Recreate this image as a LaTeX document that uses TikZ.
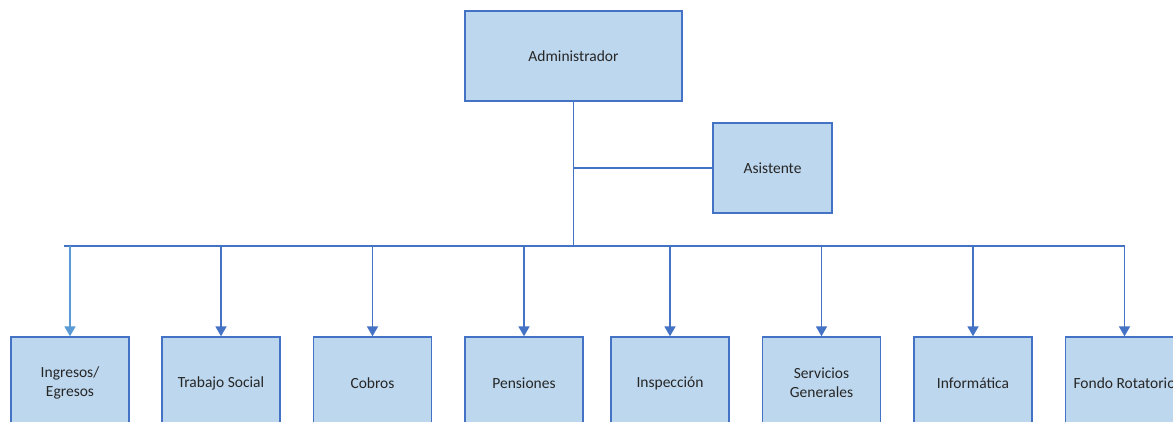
\documentclass[tikz,border=0pt]{standalone}
\usepackage{fontspec}
\setmainfont{Carlito}
\usetikzlibrary{arrows.meta}
\definecolor{boxfill}{HTML}{BDD7EE}
\definecolor{boxline}{HTML}{4472C4}
\definecolor{lightline}{HTML}{5B9BD5}
\definecolor{textgray}{HTML}{262626}
\tikzstyle{unit}=[draw=boxline, fill=boxfill, line width=1.4pt, align=center,
  text=textgray, font=\fontsize{15.5}{19}\selectfont, inner sep=0pt]
\tikzstyle{link}=[draw=boxline, line width=1.8pt]
\tikzstyle{down}=[link, -{Triangle[width=11pt,length=10pt]}]

\begin{document}
\begin{tikzpicture}[x=1pt, y=-1pt]
\useasboundingbox (0,0) rectangle (1173,422);
% Top
    \node[unit, minimum width=217pt, minimum height=90pt] (admin) at (573.5,56) {Administrador};
    \node[unit, minimum width=119pt, minimum height=90pt] (asist) at (772.5,168) {Asistente};
% Units
    \node[unit, minimum width=118pt, minimum height=92pt] (ingresos) at (70,383) {Ingresos/\\Egresos};
    \node[unit, minimum width=118pt, minimum height=92pt] (trabajo) at (221,383) {Trabajo Social};
    \node[unit, minimum width=118pt, minimum height=92pt] (cobros) at (372.5,383) {Cobros};
    \node[unit, minimum width=118pt, minimum height=92pt] (pensiones) at (524,383) {Pensiones};
    \node[unit, minimum width=118pt, minimum height=92pt] (inspeccion) at (670,383) {Inspección};
    \node[unit, minimum width=118pt, minimum height=92pt] (servicios) at (821.5,383) {Servicios\\Generales};
    \node[unit, minimum width=118pt, minimum height=92pt] (informatica) at (973,383) {Informática};
    \node[unit, minimum width=118pt, minimum height=92pt] (fondo) at (1124.5,383) {Fondo Rotatorio};
% Bus
    \coordinate (busL) at (64,246);
    \coordinate (busR) at (fondo.north |- busL);
    \draw[link] (admin.south) -- (admin.south |- busL);
    \draw[link] (admin.south |- asist.west) -- (asist.west);
    \draw[link] (busL) -- (busR);
%Arrows
    \draw[down, draw=lightline, fill=lightline] (ingresos.north |- busL) -- (ingresos.north);
    \foreach \u in {trabajo, cobros, pensiones, inspeccion, servicios, informatica, fondo}
        \draw[down, fill=boxline] (\u.north |- busL) -- (\u.north);
\end{tikzpicture}
\end{document}
